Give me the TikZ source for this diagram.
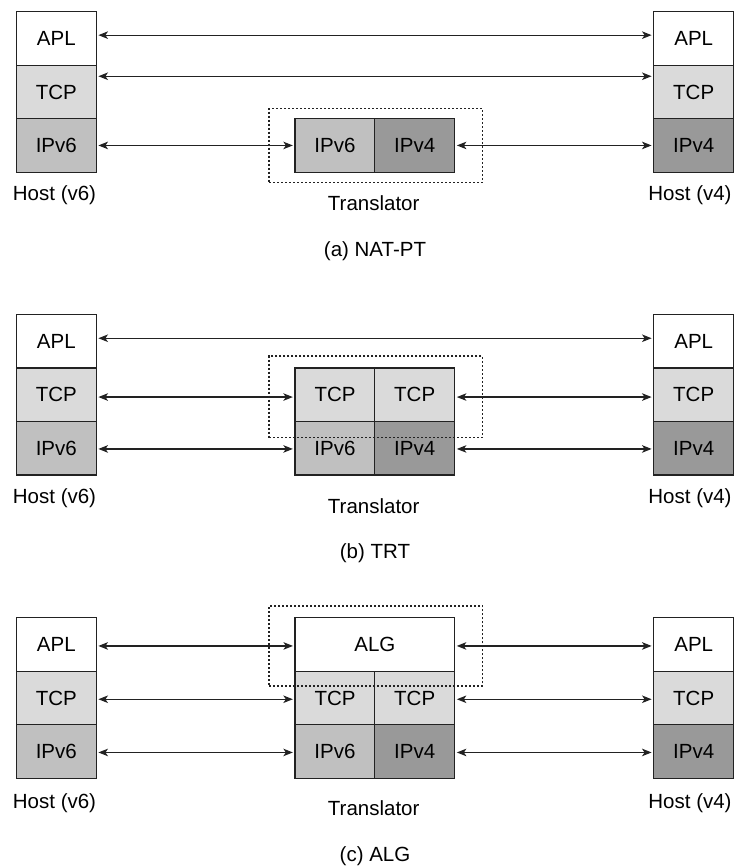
\documentclass[tikz,border=0pt]{standalone}
\usepackage{fontspec}
\setmainfont{Liberation Sans}
\usetikzlibrary{arrows.meta,calc}
\definecolor{cAPL}{HTML}{FFFFFF}
\definecolor{cTCP}{HTML}{DADADA}
\definecolor{cSIX}{HTML}{C0C0C0}
\definecolor{cFOUR}{HTML}{999999}
\definecolor{cLine}{HTML}{222222}
\tikzset{
  layer/.style={draw=cLine, line width=1.3pt, minimum width=80pt, minimum height=53.5pt, inner sep=0pt, font=\fontsize{20.5}{24}\selectfont},
  wide/.style={layer, minimum width=159.5pt},
  lbl/.style={inner sep=0pt, font=\fontsize{20.5}{24}\selectfont, text=black},
  biarrow/.style={draw=cLine, line width=1.2pt, {Stealth[length=9.5pt,width=7.5pt,inset=2.5pt]}-{Stealth[length=9.5pt,width=7.5pt,inset=2.5pt]}, shorten <=1.5pt, shorten >=1.5pt},
  dotbox/.style={draw=cLine, line width=1.2pt, dash pattern=on 2pt off 2pt, inner sep=0pt}
}
\begin{document}
\begin{tikzpicture}[x=1pt,y=-1pt]
\useasboundingbox (0,0) rectangle (735,866);
\fill[white] (0,0) rectangle (735,866);

% ================= Panel (a) =================
\def\T{11.7}
\node[layer, fill=cAPL]  (aL1) at (56.3,\T+26.75) {APL};
\node[layer, fill=cTCP]  (aL2) at (56.3,\T+80.25) {TCP};
\node[layer, fill=cSIX]  (aL3) at (56.3,\T+133.75) {IPv6};
\node[layer, fill=cAPL]  (aR1) at (693.7,\T+26.75) {APL};
\node[layer, fill=cTCP]  (aR2) at (693.7,\T+80.25) {TCP};
\node[layer, fill=cFOUR] (aR3) at (693.7,\T+133.75) {IPv4};
\node[layer, fill=cSIX]  (aT6) at (335,\T+133.75) {IPv6};
\node[layer, fill=cFOUR] (aT4) at (414.7,\T+133.75) {IPv4};
\node[dotbox, minimum width=213.3pt, minimum height=74pt] (aBox) at (375.7,\T+133.6) {};
\draw[biarrow] ([yshift=3.3pt]aL1.east) -- ([yshift=3.3pt]aR1.west);
\draw[biarrow] ([yshift=15.7pt]aL2.east) -- ([yshift=15.7pt]aR2.west);
\draw[biarrow] (aL3.east) -- (aT6.west);
\draw[biarrow] (aT4.east) -- (aR3.west);
\node[lbl] (aH6) at (54.5,\T+183.5) {Host (v6)};
\node[lbl] (aH4) at (690,\T+183.5) {Host (v4)};
\node[lbl] (aTr) at (373.7,\T+191.3) {Translator};
\node[lbl] (aCap) at (375,\T+239) {(a) NAT-PT};

% ================= Panel (b) =================
\def\T{314.5}
\node[layer, fill=cAPL]  (bL1) at (56.3,\T+26.75) {APL};
\node[layer, fill=cTCP]  (bL2) at (56.3,\T+80.25) {TCP};
\node[layer, fill=cSIX]  (bL3) at (56.3,\T+133.75) {IPv6};
\node[layer, fill=cAPL]  (bR1) at (693.7,\T+26.75) {APL};
\node[layer, fill=cTCP]  (bR2) at (693.7,\T+80.25) {TCP};
\node[layer, fill=cFOUR] (bR3) at (693.7,\T+133.75) {IPv4};
\node[layer, fill=cTCP]  (bTa) at (335,\T+80.25) {TCP};
\node[layer, fill=cTCP]  (bTb) at (414.7,\T+80.25) {TCP};
\node[layer, fill=cSIX]  (bT6) at (335,\T+133.75) {IPv6};
\node[layer, fill=cFOUR] (bT4) at (414.7,\T+133.75) {IPv4};
\node[dotbox, minimum width=213.3pt, minimum height=81.6pt] (bBox) at (375.7,\T+82.2) {};
\draw[biarrow] ([yshift=3pt]bL1.east) -- ([yshift=3pt]bR1.west);
\draw[biarrow] ([yshift=-2.3pt]bL2.east) -- ([yshift=-2.3pt]bTa.west);
\draw[biarrow] ([yshift=-2.3pt]bTb.east) -- ([yshift=-2.3pt]bR2.west);
\draw[biarrow] ([yshift=-0.7pt]bL3.east) -- ([yshift=-0.7pt]bT6.west);
\draw[biarrow] ([yshift=-0.7pt]bT4.east) -- ([yshift=-0.7pt]bR3.west);
\node[lbl] (bH6) at (54.5,\T+183.5) {Host (v6)};
\node[lbl] (bH4) at (690,\T+183.5) {Host (v4)};
\node[lbl] (bTr) at (373.7,\T+191.3) {Translator};
\node[lbl] (bCap) at (375,\T+239) {(b) TRT};

% ================= Panel (c) =================
\def\T{617.7}
\node[layer, fill=cAPL]  (cL1) at (56.3,\T+26.75) {APL};
\node[layer, fill=cTCP]  (cL2) at (56.3,\T+80.25) {TCP};
\node[layer, fill=cSIX]  (cL3) at (56.3,\T+133.75) {IPv6};
\node[layer, fill=cAPL]  (cR1) at (693.7,\T+26.75) {APL};
\node[layer, fill=cTCP]  (cR2) at (693.7,\T+80.25) {TCP};
\node[layer, fill=cFOUR] (cR3) at (693.7,\T+133.75) {IPv4};
\node[wide, fill=cAPL]   (cTg) at (374.85,\T+26.75) {ALG};
\node[layer, fill=cTCP]  (cTa) at (335,\T+80.25) {TCP};
\node[layer, fill=cTCP]  (cTb) at (414.7,\T+80.25) {TCP};
\node[layer, fill=cSIX]  (cT6) at (335,\T+133.75) {IPv6};
\node[layer, fill=cFOUR] (cT4) at (414.7,\T+133.75) {IPv4};
\node[dotbox, minimum width=213.3pt, minimum height=80pt] (cBox) at (375.7,\T+28.3) {};
\draw[biarrow] ([yshift=-1.5pt]cL1.east) -- ([yshift=-1.5pt]cTg.west);
\draw[biarrow] ([yshift=-1.5pt]cTg.east) -- ([yshift=-1.5pt]cR1.west);
\draw[biarrow] ([yshift=-1.3pt]cL2.east) -- ([yshift=-1.3pt]cTa.west);
\draw[biarrow] ([yshift=-1.3pt]cTb.east) -- ([yshift=-1.3pt]cR2.west);
\draw[biarrow] ([yshift=-1pt]cL3.east) -- ([yshift=-1pt]cT6.west);
\draw[biarrow] ([yshift=-1pt]cT4.east) -- ([yshift=-1pt]cR3.west);
\node[lbl] (cH6) at (54.5,\T+185.6) {Host (v6)};
\node[lbl] (cH4) at (690,\T+185.6) {Host (v4)};
\node[lbl] (cTr) at (373.7,\T+190.3) {Translator};
\node[lbl] (cCap) at (375,\T+238.3) {(c) ALG};
\end{tikzpicture}
\end{document}
